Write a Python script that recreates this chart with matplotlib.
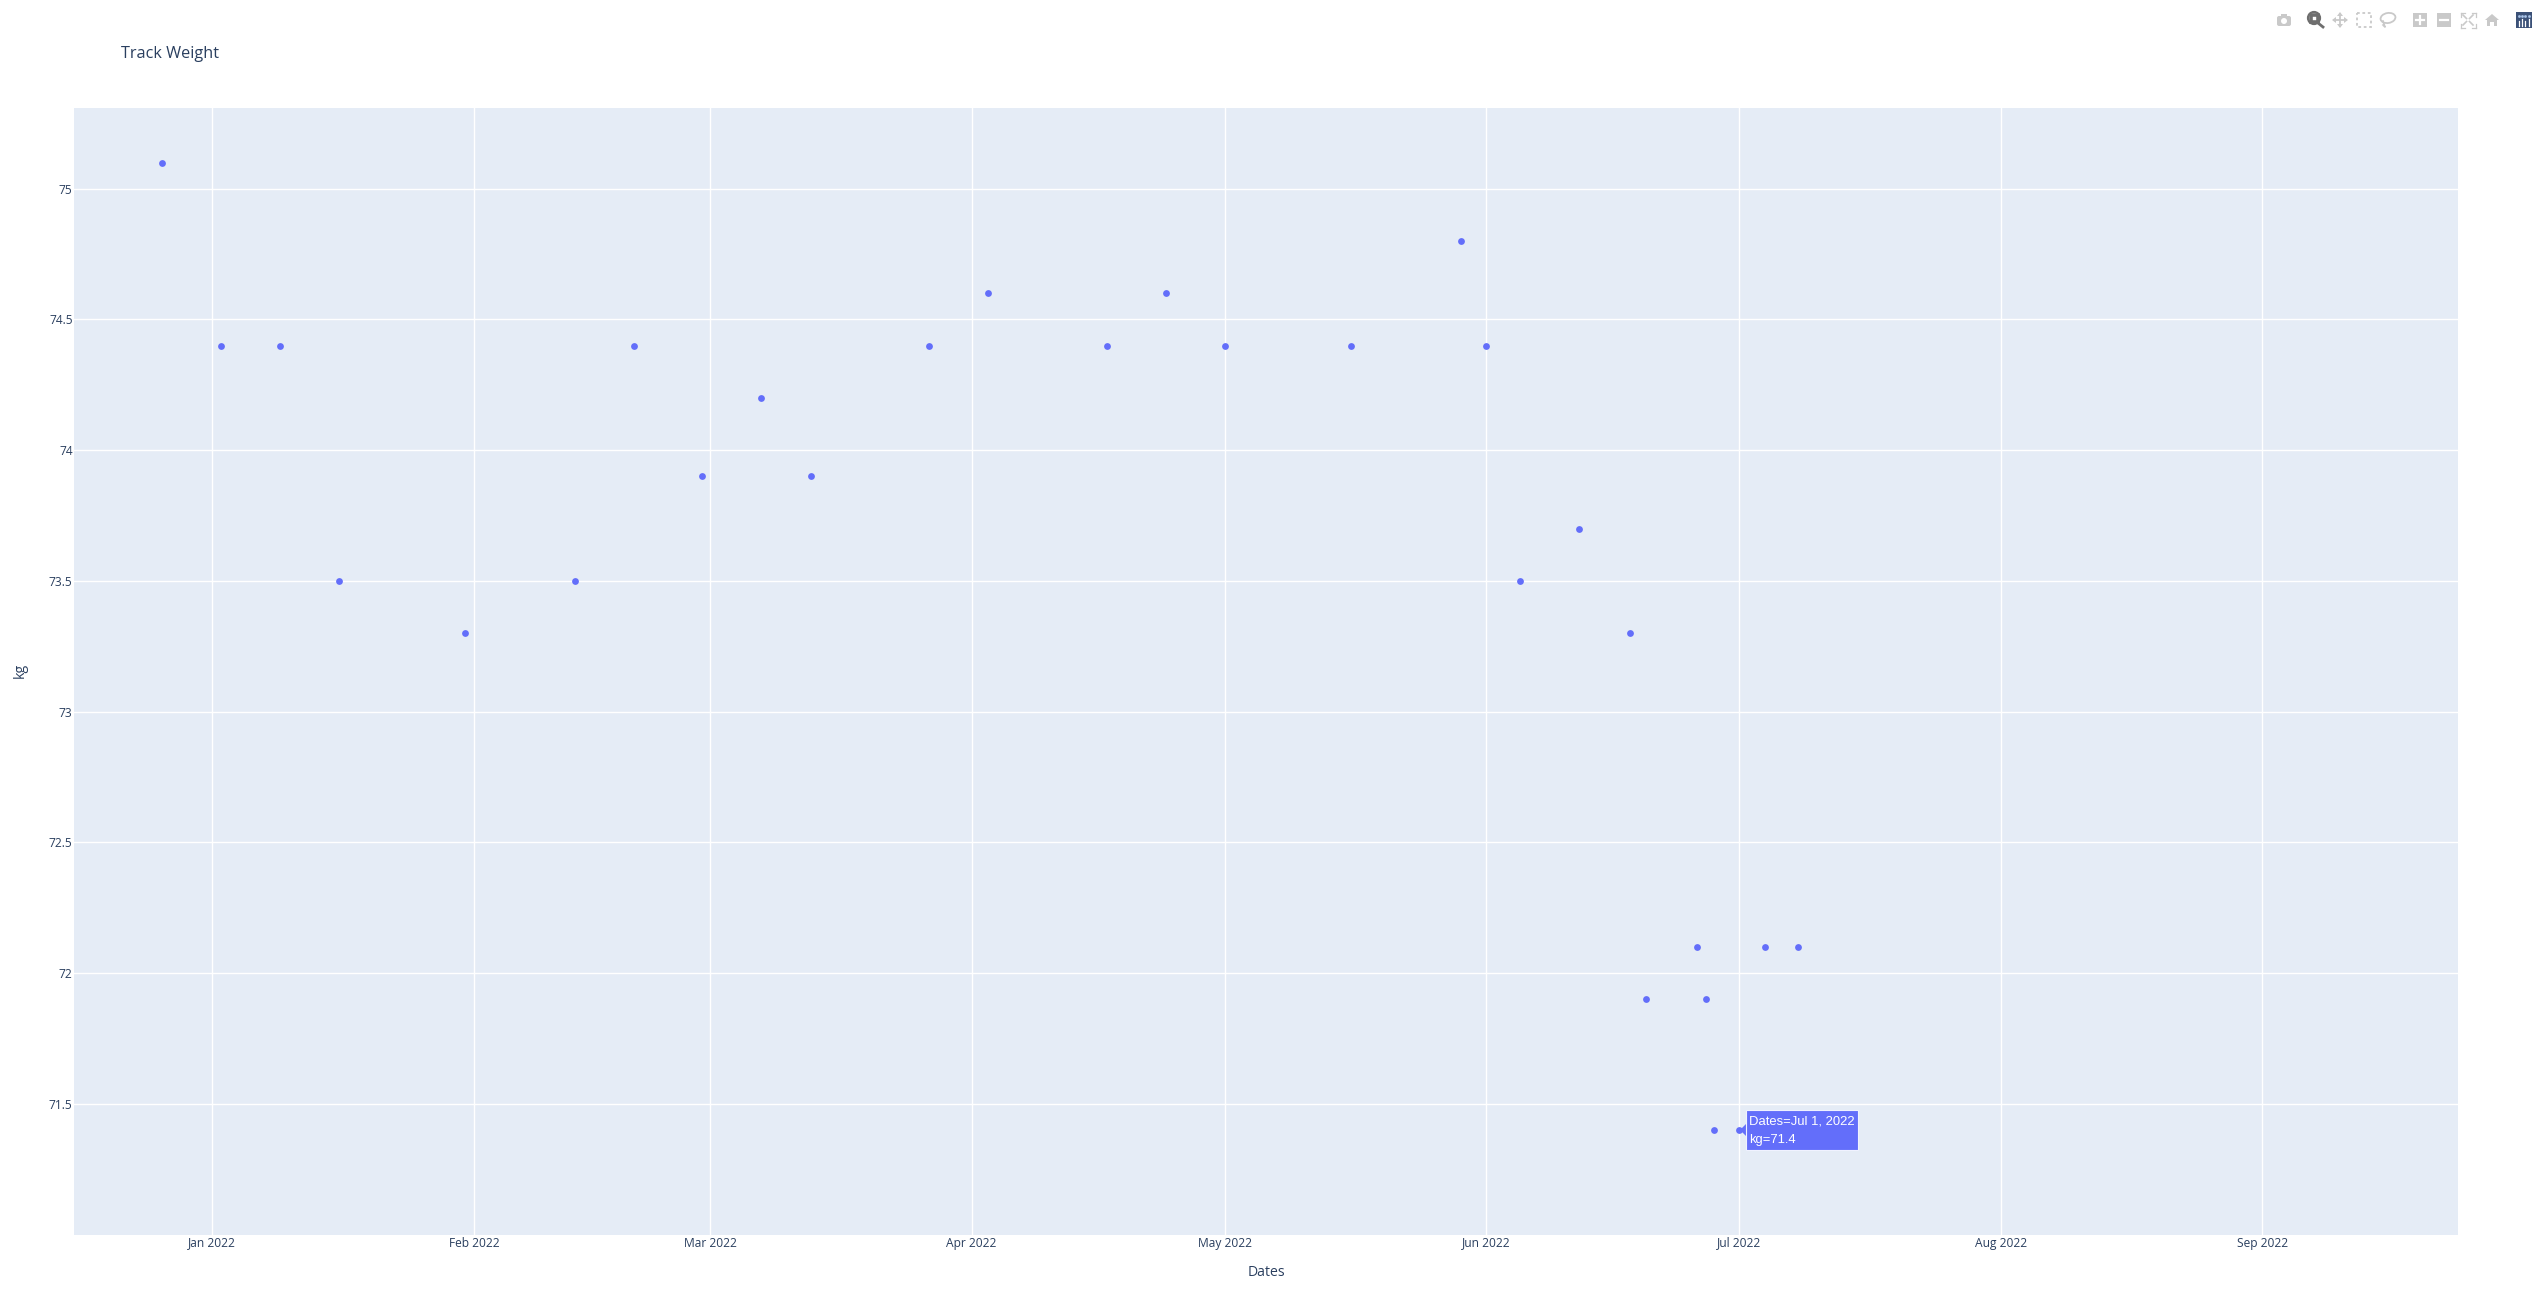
import matplotlib
matplotlib.use('Agg')
import matplotlib.pyplot as plt
import matplotlib.dates as mdates
from matplotlib.patches import Rectangle, Circle, Polygon, FancyBboxPatch, Ellipse
import pandas as pd

W, H = 2546, 1311

dates = ['2021-12-26', '2022-01-02', '2022-01-09', '2022-01-16', '2022-01-31', '2022-02-13',
         '2022-02-20', '2022-02-28', '2022-03-07', '2022-03-13', '2022-03-27', '2022-04-03',
         '2022-04-17', '2022-04-24', '2022-05-01', '2022-05-16', '2022-05-29', '2022-06-01',
         '2022-06-05', '2022-06-12', '2022-06-18', '2022-06-20', '2022-06-26', '2022-06-27',
         '2022-06-28', '2022-07-01', '2022-07-04', '2022-07-08']
weights = [75.1, 74.4, 74.4, 73.5, 73.3, 73.5, 74.4, 73.9, 74.2, 73.9, 74.4, 74.6, 74.4, 74.6,
           74.4, 74.4, 74.8, 74.4, 73.5, 73.7, 73.3, 71.9, 72.1, 71.9, 71.4, 71.4, 72.1, 72.1]
month_ticks = ['2022-01-01', '2022-02-01', '2022-03-01', '2022-04-01', '2022-05-01',
               '2022-06-01', '2022-07-01', '2022-08-01', '2022-09-01']
kg_ticks = [71.5, 72, 72.5, 73, 73.5, 74, 74.5, 75]
kg_labels = ['71.5', '72', '72.5', '73', '73.5', '74', '74.5', '75']

TEXT = '#2a3f5f'
BLUE = '#636efa'
plt.rcParams['font.family'] = ['Open Sans', 'DejaVu Sans']

fig = plt.figure(figsize=(W / 100, H / 100), dpi=100, facecolor='white')
ax = fig.add_axes([74 / W, 1 - 1234.6 / H, (2458 - 74) / W, (1234.6 - 107.6) / H], facecolor='#e5ecf6')

ax.scatter(pd.to_datetime(dates), weights, s=24, color=BLUE, linewidths=0, zorder=3)

ax.set_xlim(pd.Timestamp('2021-12-15 14:24'), pd.Timestamp('2022-09-24 04:48'))
ax.set_ylim(71.0, 75.31)
ax.set_xticks(pd.to_datetime(month_ticks))
ax.xaxis.set_major_formatter(mdates.DateFormatter('%b %Y'))
ax.set_yticks(kg_ticks)
ax.set_yticklabels(kg_labels)
ax.grid(True, color='white', linewidth=1.0)
ax.set_axisbelow(True)
for s in ax.spines.values():
    s.set_visible(False)
ax.tick_params(axis='both', length=0, labelsize=8.64, labelcolor=TEXT)
ax.tick_params(axis='x', pad=1.4)
ax.tick_params(axis='y', pad=1)

# overlay in pixel coords for title, axis titles, hover label and the modebar
ov = fig.add_axes([0, 0, 1, 1], facecolor='none')
ov.set_xlim(0, W)
ov.set_ylim(H, 0)
ov.axis('off')

ov.text(121, 53.5, 'Track Weight', fontsize=11.7, color=TEXT, va='center', ha='left')
ov.text(1266, 1272, 'Dates', fontsize=10.08, color=TEXT, va='center', ha='center')
ov.text(20.5, 670, 'kg', fontsize=10.08, color=TEXT, va='center', ha='center', rotation=90)

# hover label
ov.add_patch(Polygon([(1740, 1130), (1746, 1124), (1858, 1124), (1858, 1136), (1746, 1136)],
                     closed=True, facecolor=BLUE, edgecolor='none', zorder=4))
ov.add_patch(Rectangle((1746, 1110), 112, 40, facecolor=BLUE, edgecolor='#f0f2ff', linewidth=0.8, zorder=4))
ov.text(1749, 1122, 'Dates=Jul 1, 2022', fontsize=9.36, color='white', family='Liberation Sans',
        va='center', ha='left', zorder=5)
ov.text(1749, 1140, 'kg=71.4', fontsize=9.36, color='white', family='Liberation Sans',
        va='center', ha='left', zorder=5)

# modebar icons
GREY = '#c9c9c9'
ov.add_patch(FancyBboxPatch((2277, 16), 14, 10, boxstyle='round,pad=0,rounding_size=2', fc=GREY, ec='none'))
ov.add_patch(Rectangle((2281, 14), 6, 3, fc=GREY, ec='none'))
ov.add_patch(Circle((2284, 21), 3, fc='white', ec='none'))

ov.add_patch(Rectangle((2310.5, 14.5), 7, 7, fc='white', ec='#6e6e6e', linewidth=2.6))
ov.add_patch(Circle((2314, 18), 6, fc='none', ec='#6e6e6e', linewidth=1.6))
ov.plot([2318, 2323], [23, 27], color='#6e6e6e', linewidth=2.0)

ov.plot([2334, 2346], [20, 20], color=GREY, linewidth=1.3)
ov.plot([2340, 2340], [14, 26], color=GREY, linewidth=1.3)
for tip, a, b in [((2332, 20), (2336, 17), (2336, 23)), ((2348, 20), (2344, 17), (2344, 23)),
                  ((2340, 12), (2337, 16), (2343, 16)), ((2340, 28), (2337, 24), (2343, 24))]:
    ov.add_patch(Polygon([tip, a, b], closed=True, fc=GREY, ec='none'))

ov.add_patch(Rectangle((2357, 13), 14, 14, fc='none', ec=GREY, linewidth=1.3, linestyle=(0, (1.5, 1.5))))

ov.add_patch(Ellipse((2388, 18), 15, 10, angle=-10, fc='none', ec=GREY, linewidth=1.3))
ov.plot([2383, 2385, 2383], [21, 27, 25], color=GREY, linewidth=1.2)

ov.add_patch(Rectangle((2413, 13), 14, 14, fc=GREY, ec='none'))
ov.plot([2416, 2424], [20, 20], color='white', linewidth=1.6)
ov.plot([2420, 2420], [16, 24], color='white', linewidth=1.6)
ov.add_patch(Rectangle((2437, 13), 14, 14, fc=GREY, ec='none'))
ov.plot([2440, 2448], [20, 20], color='white', linewidth=1.6)

for sx, sy in [(-1, -1), (1, -1), (-1, 1), (1, 1)]:
    cx, cy = 2468 + 7.5 * sx, 20 + 7.5 * sy
    ov.plot([cx, cx - 4 * sx], [cy, cy], color=GREY, linewidth=0.9)
    ov.plot([cx, cx], [cy, cy - 4 * sy], color=GREY, linewidth=0.9)
    ov.plot([2468 + 1.5 * sx, 2468 + 5 * sx], [20 + 1.5 * sy, 20 + 5 * sy], color=GREY, linewidth=1.2)

ov.add_patch(Polygon([(2485, 20), (2492, 14), (2499, 20), (2497, 20), (2497, 26), (2494, 26), (2494, 22),
                      (2490, 22), (2490, 26), (2487, 26), (2487, 20)], closed=True, fc=GREY, ec='none'))

ov.add_patch(Rectangle((2516, 12), 16, 16, fc='#3b5177', ec='none'))
for i, top in enumerate([21, 19, 21, 19]):
    px = 2519 + 3.2 * i
    ov.plot([px, px], [top, 26], color='white', linewidth=0.9)
    ov.plot([px], [16], marker='s', markersize=0.9, color='#a9c4e8')

fig.savefig('out.png', dpi=100, facecolor='white')
